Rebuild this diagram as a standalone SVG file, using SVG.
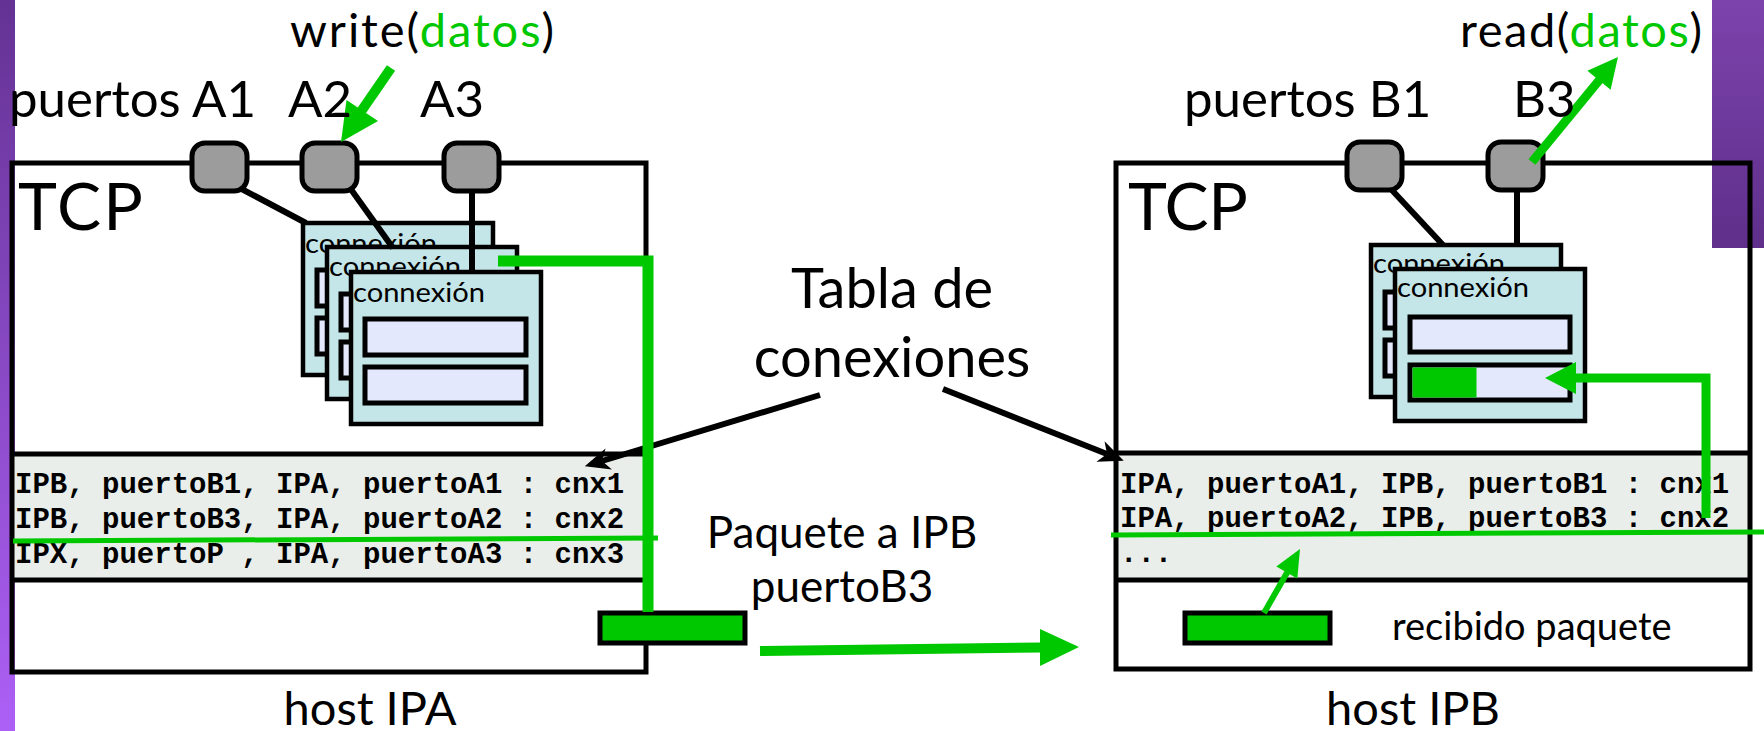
<svg xmlns="http://www.w3.org/2000/svg" width="1764" height="731" viewBox="0 0 1764 731">
<defs>
<linearGradient id="gL" x1="0" y1="0" x2="0" y2="1"><stop offset="0" stop-color="#643293"/><stop offset="1" stop-color="#ad60f6"/></linearGradient>
<linearGradient id="gR" x1="0" y1="0" x2="0" y2="1"><stop offset="0" stop-color="#7c43ac"/><stop offset="1" stop-color="#5f2f8b"/></linearGradient>
<marker id="ah" markerUnits="userSpaceOnUse" markerWidth="26" markerHeight="24" viewBox="0 0 26 24" refX="7" refY="12" orient="auto"><path d="M0,1 L25,12 L0,23 L7,12 z" fill="#000"/></marker>
<style>
.box{fill:none;stroke:#000;stroke-width:5}
.tbl{fill:#e9eeea}
.tline{stroke:#000;stroke-width:5}
.port{fill:#9c9c9c;stroke:#000;stroke-width:5}
.card{fill:#c4e6e8;stroke:#000;stroke-width:4.5}
.bar{fill:#e4e8fc;stroke:#000;stroke-width:5}
.pkt{fill:#00c800;stroke:#000;stroke-width:5}
.blk{stroke:#000;stroke-width:6;fill:none}
.grn{stroke:#00c800;fill:none}
.gh{fill:#00c800}
.t{font-family:Lato,"Open Sans",sans-serif;fill:#000}
.mono{font-family:"Liberation Mono","Courier New",monospace;font-weight:bold;font-size:29px;fill:#000}
.cx{font-family:Lato,"Open Sans",sans-serif;font-size:27px;fill:#000}
.g{fill:#00c800}
</style>
</defs>
<rect width="1764" height="731" fill="#fff"/>
<rect x="0" y="0" width="15" height="731" fill="url(#gL)"/>
<rect x="1712" y="0" width="52" height="248" fill="url(#gR)"/>

<g id="hostA">
<rect x="12" y="454" width="634" height="126" class="tbl"/>
<line x1="12" y1="454" x2="646" y2="454" class="tline"/>
<line x1="12" y1="580" x2="646" y2="580" class="tline"/>
<rect x="12" y="163" width="634" height="509" class="box"/>
<text x="18" y="230" class="t" font-size="66" textLength="125">TCP</text>
<text x="15" y="493" class="mono">IPB, puertoB1, IPA, puertoA1 : cnx1</text>
<text x="15" y="528" class="mono">IPB, puertoB3, IPA, puertoA2 : cnx2</text>
<text x="15" y="563" class="mono">IPX, puertoP , IPA, puertoA3 : cnx3</text>
</g>

<g id="hostB">
<rect x="1116" y="453" width="634" height="127" class="tbl"/>
<line x1="1116" y1="453" x2="1750" y2="453" class="tline"/>
<line x1="1116" y1="580" x2="1750" y2="580" class="tline"/>
<rect x="1116" y="163" width="634" height="506" class="box"/>
<text x="1128" y="230" class="t" font-size="66" textLength="120">TCP</text>
<text x="1120" y="493" class="mono">IPA, puertoA1, IPB, puertoB1 : cnx1</text>
<text x="1120" y="527" class="mono">IPA, puertoA2, IPB, puertoB3 : cnx2</text>
<text x="1120" y="562" class="mono">...</text>
</g>

<g id="cardA1" transform="translate(303,223)">
<rect width="190" height="152" class="card"/>
<text x="2" y="30" class="cx" textLength="132" lengthAdjust="spacingAndGlyphs">connexión</text>
<rect x="14" y="47" width="161" height="36" class="bar"/>
<rect x="14" y="95" width="161" height="36" class="bar"/>
</g>
<g id="cardA2" transform="translate(327,247)">
<rect width="190" height="152" class="card"/>
<text x="2" y="29" class="cx" textLength="132" lengthAdjust="spacingAndGlyphs">connexión</text>
<rect x="14" y="47" width="161" height="36" class="bar"/>
<rect x="14" y="95" width="161" height="36" class="bar"/>
</g>

<g id="connectors">
<line x1="236" y1="186" x2="306" y2="223" class="blk"/>
<line x1="350" y1="188" x2="393" y2="248" class="blk"/>
<line x1="472" y1="190" x2="472" y2="272" class="blk"/>
<line x1="1390" y1="188" x2="1443" y2="245" class="blk"/>
<line x1="1517" y1="190" x2="1517" y2="269" class="blk"/>
<line x1="820" y1="395" x2="602" y2="461" class="blk" marker-end="url(#ah)"/>
<line x1="943" y1="389" x2="1107" y2="454" class="blk" marker-end="url(#ah)"/>
</g>

<g id="cardA3" transform="translate(351,272)">
<rect width="190" height="152" class="card"/>
<text x="2" y="30" class="cx" textLength="132" lengthAdjust="spacingAndGlyphs">connexión</text>
<rect x="14" y="47" width="161" height="36" class="bar"/>
<rect x="14" y="95" width="161" height="36" class="bar"/>
</g>
<g id="cardB1" transform="translate(1371,245)">
<rect width="190" height="152" class="card"/>
<text x="2" y="28" class="cx" textLength="132" lengthAdjust="spacingAndGlyphs">connexión</text>
<rect x="14" y="47" width="161" height="36" class="bar"/>
<rect x="14" y="95" width="161" height="36" class="bar"/>
</g>
<g id="cardB2" transform="translate(1395,269)">
<rect width="190" height="152" class="card"/>
<text x="2" y="28" class="cx" textLength="132" lengthAdjust="spacingAndGlyphs">connexión</text>
<rect x="15" y="48" width="160" height="35" class="bar"/>
<rect x="15" y="96" width="160" height="35" class="bar"/>
<rect x="17.5" y="98.5" width="64" height="30" class="g"/>
</g>

<g id="ports">
<rect id="pA1" x="192" y="143" width="55" height="48" rx="13" class="port"/>
<rect id="pA2" x="302" y="143" width="55" height="48" rx="13" class="port"/>
<rect id="pA3" x="444" y="143" width="55" height="48" rx="13" class="port"/>
<rect id="pB1" x="1347" y="142" width="55" height="48" rx="13" class="port"/>
<rect id="pB3" x="1488" y="142" width="55" height="48" rx="13" class="port"/>
</g>

<g id="packets">
<rect id="pktA" x="600" y="613" width="145" height="30" class="pkt"/>
<rect id="pktB" x="1185" y="613" width="145" height="30" class="pkt"/>
</g>

<g id="green-connectors">
<line x1="13" y1="541" x2="658" y2="538" class="grn" stroke-width="5"/>
<line x1="1111" y1="535" x2="1764" y2="532" class="grn" stroke-width="5"/>
<polyline points="498,261 648,261 648,612" class="grn" stroke-width="11"/>
<line x1="391" y1="68" x2="360" y2="113" class="grn" stroke-width="10"/>
<polygon points="341,142 378,121 346.5,100" class="gh"/>
<line x1="1532" y1="162" x2="1601" y2="78" class="grn" stroke-width="9"/>
<polygon points="1618,57 1610.6,89.7 1587.4,70.7" class="gh"/>
<line x1="760" y1="651" x2="1042" y2="647.5" class="grn" stroke-width="10"/>
<polygon points="1079,647 1040,629 1040,666" class="gh"/>
<polyline points="1706,518 1706,378 1574,378" class="grn" stroke-width="9"/>
<polygon points="1545,378 1576,362 1576,394" class="gh"/>
<line x1="1264" y1="613" x2="1288" y2="571" class="grn" stroke-width="6"/>
<polygon points="1300,549 1297.3,578.4 1276.3,566.6" class="gh"/>
</g>

<g id="labels">
<text x="9" y="117" class="t" font-size="51">puertos A1</text>
<text x="288" y="117" class="t" font-size="51">A2</text>
<text x="420" y="117" class="t" font-size="51">A3</text>
<text x="290" y="47" class="t" font-size="47" textLength="264">write(<tspan class="g">datos</tspan>)</text>
<text x="1184" y="117" class="t" font-size="51">puertos B1</text>
<text x="1513" y="117" class="t" font-size="51">B3</text>
<text x="1460" y="47" class="t" font-size="47" textLength="242">read(<tspan class="g">datos</tspan>)</text>
<text x="892" y="308" class="t" font-size="56" text-anchor="middle">Tabla de</text>
<text x="892" y="377" class="t" font-size="56" text-anchor="middle">conexiones</text>
<text x="842" y="548" class="t" font-size="44" text-anchor="middle">Paquete a IPB</text>
<text x="842" y="602" class="t" font-size="44" text-anchor="middle">puertoB3</text>
<text x="1392" y="640" class="t" font-size="38">recibido paquete</text>
<text x="370" y="725" class="t" font-size="47" text-anchor="middle">host IPA</text>
<text x="1413" y="725" class="t" font-size="47" text-anchor="middle">host IPB</text>
</g>
</svg>
